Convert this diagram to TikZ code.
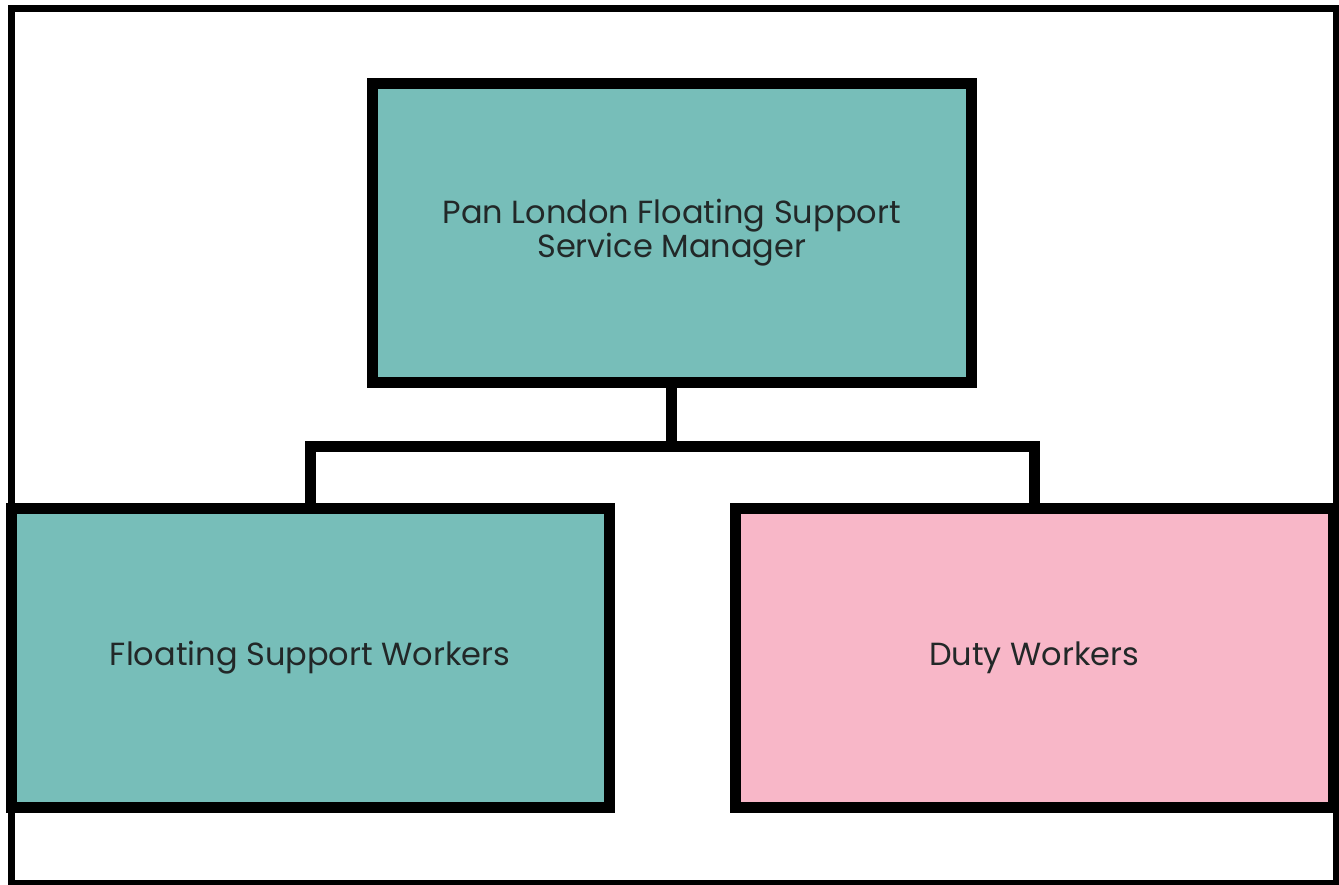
\documentclass[tikz,border=0pt]{standalone}
\usepackage{fontspec}
\setmainfont{Poppins}
\definecolor{teal}{RGB}{119,190,185}
\definecolor{pinkbox}{RGB}{248,183,200}
\definecolor{inkgray}{RGB}{34,40,40}

\begin{document}
\begin{tikzpicture}[x=1pt, y=-1pt, line join=miter,
    orgbox/.style={draw=black, line width=11pt, minimum width=598pt, minimum height=299pt,
        align=center, text=inkgray, font=\fontsize{32}{32}\selectfont},
    link/.style={draw=black, line width=11pt}]

    \useasboundingbox (0,0) rectangle (1339,884);
    \draw [line width=7pt] (11,8) rectangle (1336,883);

    \node [orgbox, fill=teal, minimum width=598.5pt] (mgr) at (671.75, 233) {Pan London Floating Support\\Service Manager};
    \node [orgbox, fill=teal] (fsw) at (310, 657.5) {Floating Support Workers};
    \node [orgbox, fill=pinkbox] (duty) at (1034, 657.5) {Duty Workers};

    \coordinate (split) at (671.75, 446);
    \draw [link] (mgr.south) -- (split) -| (fsw.north);
    \draw [link] (split) -| (duty.north);

\end{tikzpicture}
\end{document}
